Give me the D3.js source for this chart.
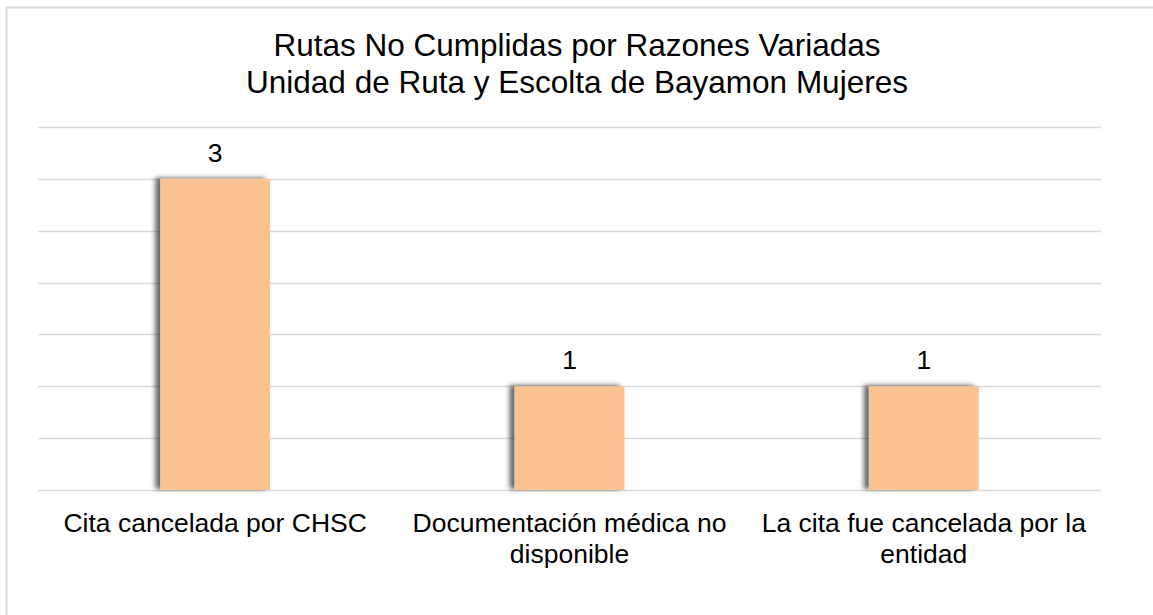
<!DOCTYPE html>
<html>
<head>
<meta charset="utf-8">
<script src="https://cdn.jsdelivr.net/npm/d3@7"></script>
<style>
  body { margin: 0; background: #fff; }
  svg { font-family: "Liberation Sans", Arial, sans-serif; }
</style>
</head>
<body>
<svg id="chart"></svg>
<script>
// chart data
const titleLines = ["Rutas No Cumplidas por Razones Variadas", "Unidad de Ruta y Escolta de Bayamon Mujeres"];
const categories = [
    ["Cita cancelada por CHSC"],
    ["Documentación médica no", "disponible"],
    ["La cita fue cancelada por la", "entidad"]
];
const values = [3, 1, 1];
const gridTicks = [0, 0.5, 1, 1.5, 2, 2.5, 3, 3.5];

const width = 1153, height = 615;
const margin = { top: 127, right: 52, bottom: 125, left: 38 };
const innerW = width - margin.left - margin.right;
const innerH = height - margin.top - margin.bottom;

const svg = d3.select("#chart")
    .attr("width", width)
    .attr("height", height);

// outer chart border (runs off the right / bottom edge)
svg.append("rect")
    .attr("x", 6.5).attr("y", 7.5)
    .attr("width", 1170).attr("height", 640)
    .attr("fill", "#fff")
    .attr("stroke", "#d9d9d9")
    .attr("stroke-width", 2);

const defs = svg.append("defs");
const shadow = defs.append("filter")
    .attr("id", "barShadow")
    .attr("x", "-20%").attr("y", "-10%")
    .attr("width", "140%").attr("height", "120%");
shadow.append("feDropShadow")
    .attr("dx", -5).attr("dy", -1)
    .attr("stdDeviation", 2.5)
    .attr("flood-color", "#000")
    .attr("flood-opacity", 0.6);

// title
const title = svg.append("text")
    .attr("x", 577)
    .attr("text-anchor", "middle")
    .attr("font-size", "31.5px")
    .attr("fill", "#000");
title.selectAll("tspan")
    .data(titleLines)
    .join("tspan")
    .attr("x", 577)
    .attr("y", (d, i) => 56 + i * 37)
    .text(d => d);

const g = svg.append("g")
    .attr("transform", `translate(${margin.left},${margin.top})`);

const x = d3.scaleBand()
    .domain(d3.range(categories.length))
    .range([0, innerW])
    .paddingInner(0.69)
    .paddingOuter(0.345);

const y = d3.scaleLinear()
    .domain([0, 3.5])
    .range([innerH, 0]);

// gridlines
g.append("g")
    .selectAll("line")
    .data(gridTicks)
    .join("line")
    .attr("x1", 0)
    .attr("x2", innerW)
    .attr("y1", d => Math.round(y(d)) + 0.5)
    .attr("y2", d => Math.round(y(d)) + 0.5)
    .attr("stroke", "#d9d9d9")
    .attr("stroke-width", 1.5);

// bars
g.append("g")
    .selectAll("rect")
    .data(values)
    .join("rect")
    .attr("x", (d, i) => x(i))
    .attr("y", d => y(d))
    .attr("width", x.bandwidth())
    .attr("height", d => innerH - y(d))
    .attr("fill", "#f9c290")
    .attr("filter", "url(#barShadow)");

// value labels
g.append("g")
    .selectAll("text")
    .data(values)
    .join("text")
    .attr("x", (d, i) => x(i) + x.bandwidth() / 2)
    .attr("y", d => y(d) - 17)
    .attr("text-anchor", "middle")
    .attr("font-size", "26.5px")
    .attr("fill", "#000")
    .text(d => d);

// category labels
const catG = g.append("g")
    .attr("transform", `translate(0,${innerH})`);
catG.selectAll("text")
    .data(categories)
    .join("text")
    .attr("text-anchor", "middle")
    .attr("font-size", "26.5px")
    .attr("fill", "#000")
    .each(function (lines, i) {
        d3.select(this).selectAll("tspan")
            .data(lines)
            .join("tspan")
            .attr("x", x(i) + x.bandwidth() / 2)
            .attr("y", (d, j) => 42 + j * 31)
            .text(d => d);
    });
</script>
</body>
</html>
